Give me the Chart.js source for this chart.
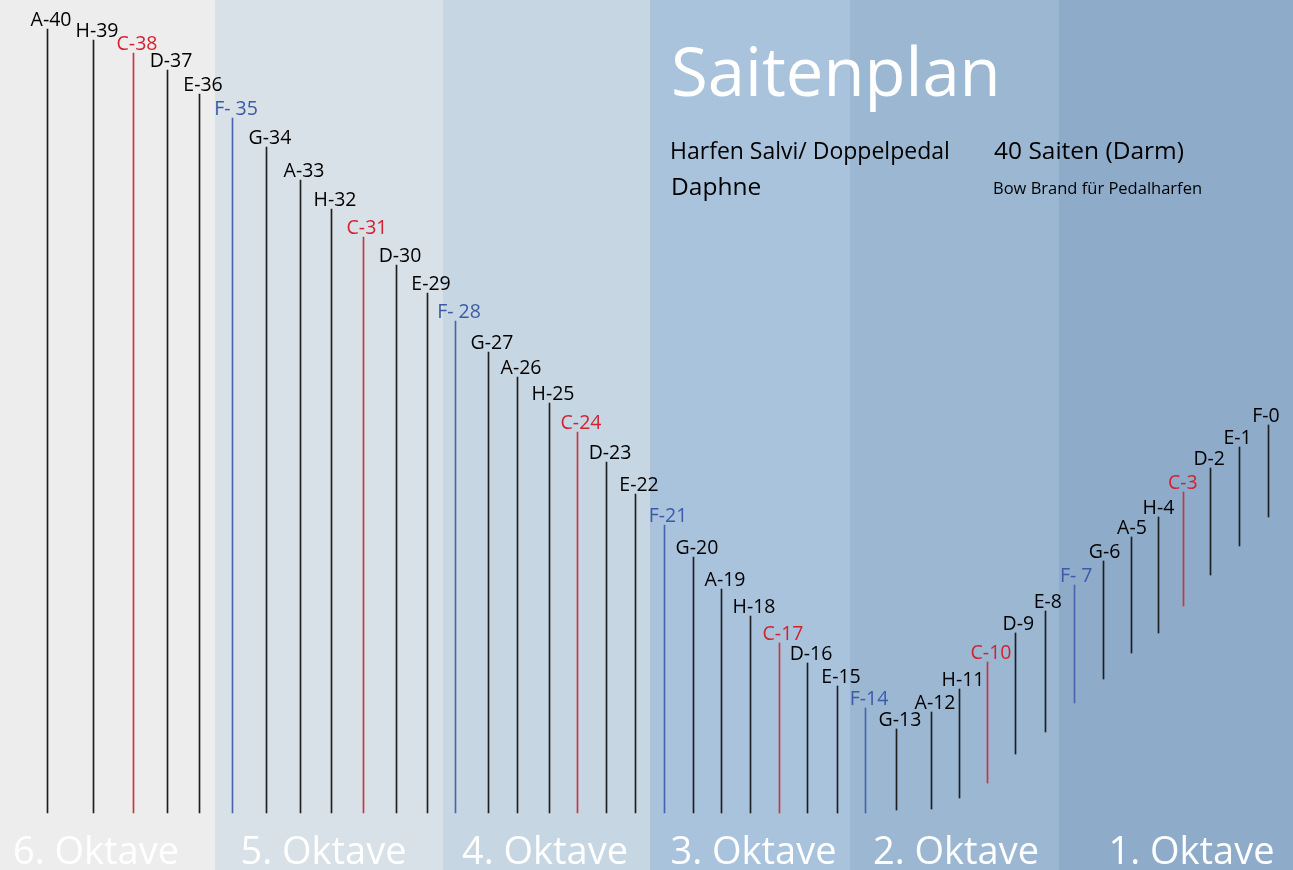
<!DOCTYPE html>
<html><head><meta charset="utf-8">
<script src="https://cdn.jsdelivr.net/npm/chart.js@4.4.1/dist/chart.umd.min.js"></script>
<style>
html,body{margin:0;padding:0;background:#ededed;overflow:hidden}
#wrap{width:1293px;height:870px;position:relative}
</style>
</head><body><div id="wrap"><canvas id="c"></canvas></div>
<script>
// ---- data ----
const stringNames = ["A-40","H-39","C-38","D-37","E-36","F- 35","G-34","A-33","H-32","C-31","D-30","E-29","F- 28","G-27","A-26","H-25","C-24","D-23","E-22","F-21","G-20","A-19","H-18","C-17","D-16","E-15","F-14","G-13","A-12","H-11","C-10","D-9","E-8","F- 7","G-6","A-5","H-4","C-3","D-2","E-1","F-0"];
const stringPositions = [47,93,133,167,199,232,266,300,331,363,396,427,455,488,517,549,577,606,635,664,693,721,750,779,807,837,865,896,931,959,987,1015,1045,1074,1103,1131,1158,1183,1210,1239,1268];
const stringTops = [841,830,817,800,776,752,723,690,661,633,605,577,549,518,493,467,438,408,376,345,313,281,254,227,207,184,162,141,158,181,208,237,259,285,309,333,353,378,402,423,445];
const stringBottoms = [57,57,57,57,57,57,57,57,57,57,57,57,57,57,57,57,57,57,57,57,57,57,57,57,57,57,57,60,61,72,87,116,138,167,191,217,237,264,295,324,353];
const octaveNames = ["6. Oktave","5. Oktave","4. Oktave","3. Oktave","2. Oktave","1. Oktave"];
const octaveBounds = [0,215,443,650,850,1059,1293];
const titleText = "Saitenplan";
const subtitleLines = ["Harfen Salvi/ Doppelpedal","Daphne"];
const infoLines = ["40 Saiten (Darm)","Bow Brand für Pedalharfen"];

// ---- styles ----
const octaveColors = ["#ededed","#d9e1e8","#c6d7e3","#a9c3dd","#9cb7d2","#8eabca"];
const octaveLabelShift = [-12,-6,-2,3,1,15];
const FONT = "'Open Sans', 'Noto Sans', sans-serif";
function noteKind(name){
  const k = name.charAt(0);
  const n = parseInt(name.replace(/[^0-9]/g,""),10);
  if(k==="F" && n===0) return "";
  return k;
}
function lineColor(name){ const k=noteKind(name); return k==="C" ? "#c9343f" : k==="F" ? "#4a64ab" : "#1e1e1e"; }
function textColor(name){ const k=noteKind(name); return k==="C" ? "#d3222f" : k==="F" ? "#3b5ba8" : "#000000"; }

const bandsPlugin = {
  id: "bands",
  beforeDatasetsDraw(chart){
    const {ctx, scales:{x}, height} = chart;
    ctx.save();
    for(let i=0;i<octaveColors.length;i++){
      const x0 = Math.round(x.getPixelForValue(octaveBounds[i]-0.5));
      const x1 = Math.round(x.getPixelForValue(octaveBounds[i+1]-0.5));
      ctx.fillStyle = octaveColors[i];
      ctx.fillRect(x0,0,x1-x0,height);
    }
    ctx.restore();
  }
};

const textPlugin = {
  id: "texts",
  afterDatasetsDraw(chart){
    const {ctx, scales:{x}} = chart;
    const meta = chart.getDatasetMeta(0);
    ctx.save();
    // string labels
    ctx.font = "19.5px " + FONT;
    ctx.textAlign = "center";
    ctx.textBaseline = "alphabetic";
    meta.data.forEach((el,i)=>{
      const name = stringNames[i];
      const dx = i < 30 ? 3.5 : 3.5 - (i-30)*0.6;
      ctx.fillStyle = textColor(name);
      ctx.fillText(name, el.x + dx, el.y - 3);
    });
    // octave labels
    ctx.font = "38px " + FONT;
    ctx.fillStyle = "#ffffff";
    for(let i=0;i<octaveNames.length;i++){
      const cx = (x.getPixelForValue(octaveBounds[i]) + x.getPixelForValue(octaveBounds[i+1]))/2 + octaveLabelShift[i];
      ctx.fillText(octaveNames[i], cx, 864);
    }
    // title block
    ctx.textAlign = "left";
    ctx.font = "67px " + FONT;
    ctx.fillStyle = "#ffffff";
    ctx.fillText(titleText, 671, 96);
    ctx.fillStyle = "#000000";
    ctx.font = "23px " + FONT;
    ctx.fillText(subtitleLines[0], 670, 159);
    ctx.font = "24.5px " + FONT;
    ctx.fillText(subtitleLines[1], 671, 195);
    ctx.font = "24.5px " + FONT;
    ctx.fillText(infoLines[0], 994, 159);
    ctx.font = "16.5px " + FONT;
    ctx.fillText(infoLines[1], 993, 194);
    ctx.restore();
  }
};

const points = stringPositions.map((p,i)=>({x:p, y:[stringBottoms[i], stringTops[i]]}));

new Chart(document.getElementById("c"), {
  type: "bar",
  data: { datasets: [{
    data: points,
    backgroundColor: stringNames.map(lineColor),
    borderWidth: 0,
    barThickness: 1,
    grouped: false
  }]},
  options: {
    responsive: true,
    maintainAspectRatio: false,
    animation: false,
    devicePixelRatio: 1,
    layout: { padding: 0 },
    plugins: { legend:{display:false}, tooltip:{enabled:false}, title:{display:false} },
    scales: {
      x: { type:"linear", min:-0.5, max:1292.5, offset:false, display:false },
      y: { min:0, max:870, display:false }
    }
  },
  plugins: [bandsPlugin, textPlugin]
});
</script>
</body></html>
